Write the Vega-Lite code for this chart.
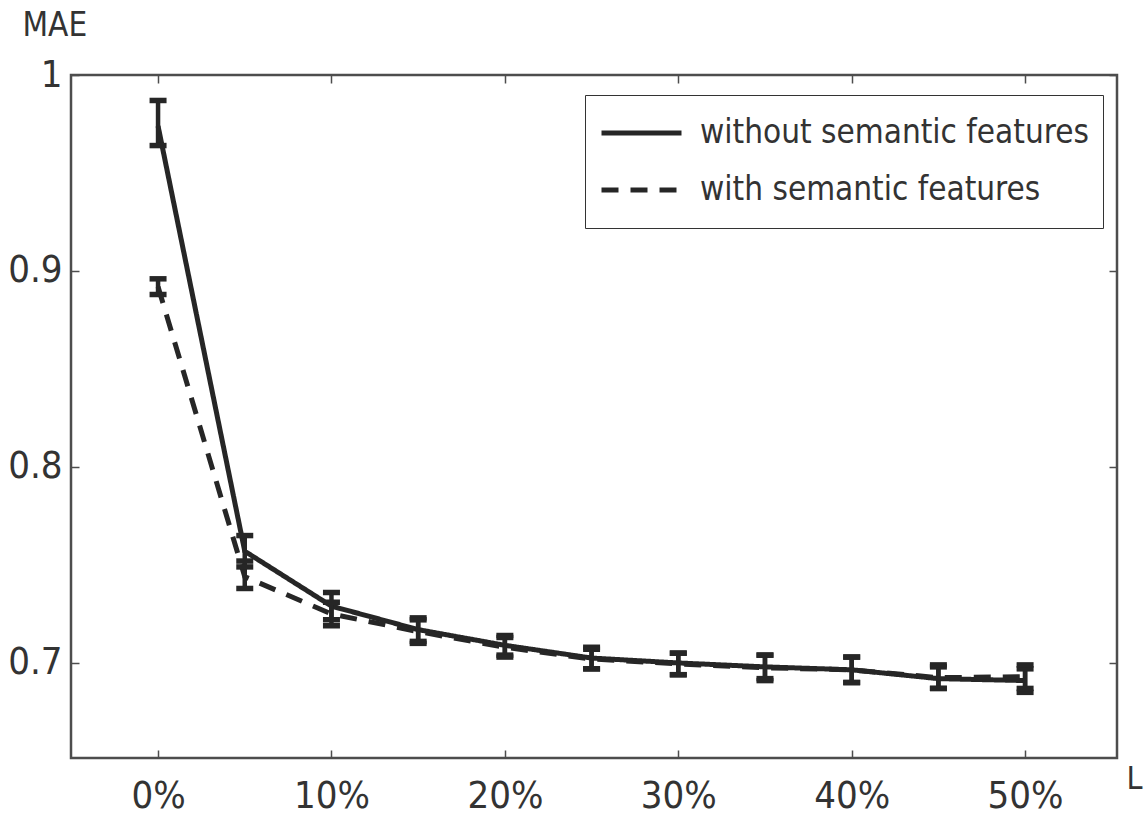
{
  "$schema": "https://vega.github.io/schema/vega-lite/v6.json",
  "width": 1046,
  "height": 683,
  "autosize": {"type": "none"},
  "padding": {"left": 71, "top": 75, "right": 30, "bottom": 59},
  "background": "white",
  "config": {
    "view": {"stroke": "#4d4d4d", "strokeWidth": 2.5},
    "font": "DejaVu Sans Condensed, Liberation Sans",
    "axis": {
      "grid": false,
      "domain": false,
      "tickColor": "#4d4d4d",
      "tickWidth": 1.5,
      "tickSize": -8,
      "labelFont": "DejaVu Sans Condensed, Liberation Sans",
      "labelFontSize": 38,
      "labelColor": "#333333",
      "titleFont": "DejaVu Sans Condensed, Liberation Sans",
      "titleFontWeight": "normal",
      "titleColor": "#333333"
    },
    "legend": {
      "labelFont": "DejaVu Sans Condensed, Liberation Sans",
      "labelFontSize": 33,
      "labelColor": "#333333",
      "labelLimit": 0
    }
  },
  "data": {
    "values": [
      {"x": 0, "series": "without semantic features", "mean": 0.974, "lo": 0.964, "hi": 0.987},
      {"x": 5, "series": "without semantic features", "mean": 0.757, "lo": 0.749, "hi": 0.765},
      {"x": 10, "series": "without semantic features", "mean": 0.729, "lo": 0.722, "hi": 0.736},
      {"x": 15, "series": "without semantic features", "mean": 0.717, "lo": 0.711, "hi": 0.723},
      {"x": 20, "series": "without semantic features", "mean": 0.709, "lo": 0.704, "hi": 0.714},
      {"x": 25, "series": "without semantic features", "mean": 0.7025, "lo": 0.697, "hi": 0.708},
      {"x": 30, "series": "without semantic features", "mean": 0.7, "lo": 0.694, "hi": 0.705},
      {"x": 35, "series": "without semantic features", "mean": 0.698, "lo": 0.692, "hi": 0.704},
      {"x": 40, "series": "without semantic features", "mean": 0.6965, "lo": 0.690, "hi": 0.703},
      {"x": 45, "series": "without semantic features", "mean": 0.692, "lo": 0.687, "hi": 0.698},
      {"x": 50, "series": "without semantic features", "mean": 0.691, "lo": 0.685, "hi": 0.697},
      {"x": 0, "series": "with semantic features", "mean": 0.892, "lo": 0.888, "hi": 0.896},
      {"x": 5, "series": "with semantic features", "mean": 0.744, "lo": 0.738, "hi": 0.752},
      {"x": 10, "series": "with semantic features", "mean": 0.725, "lo": 0.719, "hi": 0.731},
      {"x": 15, "series": "with semantic features", "mean": 0.716, "lo": 0.710, "hi": 0.722},
      {"x": 20, "series": "with semantic features", "mean": 0.708, "lo": 0.703, "hi": 0.713},
      {"x": 25, "series": "with semantic features", "mean": 0.702, "lo": 0.697, "hi": 0.707},
      {"x": 30, "series": "with semantic features", "mean": 0.6995, "lo": 0.694, "hi": 0.705},
      {"x": 35, "series": "with semantic features", "mean": 0.6975, "lo": 0.691, "hi": 0.704},
      {"x": 40, "series": "with semantic features", "mean": 0.6965, "lo": 0.690, "hi": 0.703},
      {"x": 45, "series": "with semantic features", "mean": 0.6925, "lo": 0.687, "hi": 0.699},
      {"x": 50, "series": "with semantic features", "mean": 0.693, "lo": 0.687, "hi": 0.699}
    ]
  },
  "layer": [
    {
      "mark": {"type": "line", "color": "#262626", "strokeWidth": 5, "strokeCap": "butt"},
      "encoding": {
        "x": {
          "field": "x", "type": "quantitative",
          "scale": {"domain": [-5.02, 55.3], "nice": false, "zero": false},
          "axis": {
            "orient": "bottom",
            "values": [0, 10, 20, 30, 40, 50],
            "labelExpr": "datum.value + '%'",
            "labelBaseline": "alphabetic",
            "labelPadding": 57,
            "title": "L",
            "titleFontSize": 32,
            "titleAnchor": "start",
            "titleAlign": "left",
            "titleBaseline": "alphabetic",
            "titleX": 1055,
            "titleY": 30
          }
        },
        "y": {
          "field": "mean", "type": "quantitative",
          "scale": {"domain": [0.6515, 1.0], "nice": false, "zero": false},
          "axis": {
            "orient": "left",
            "values": [0.7, 0.8, 0.9, 1.0],
            "format": ".1~f",
            "labelPadding": 17,
            "title": "MAE",
            "titleFontSize": 33,
            "titleAngle": 0,
            "titleAlign": "left",
            "titleBaseline": "alphabetic",
            "titleX": -49,
            "titleY": -40
          }
        },
        "strokeDash": {
          "field": "series", "type": "nominal",
          "scale": {
            "domain": ["without semantic features", "with semantic features"],
            "range": [[1, 0], [17, 12]]
          },
          "legend": {
            "title": null,
            "orient": "none",
            "legendX": 514,
            "legendY": 20,
            "strokeColor": "#333333",
            "fillColor": "white",
            "padding": 14,
            "rowPadding": 9,
            "clipHeight": 48,
            "symbolType": "stroke",
            "symbolSize": 6400,
            "symbolStrokeWidth": 5,
            "symbolStrokeColor": "#262626",
            "labelOffset": 16
          }
        }
      }
    },
    {
      "mark": {"type": "rule", "color": "#262626", "strokeWidth": 4.5},
      "encoding": {
        "x": {"field": "x", "type": "quantitative",
          "axis": {"orient": "top", "values": [0, 10, 20, 30, 40, 50], "labels": false, "title": null}},
        "y": {"field": "lo", "type": "quantitative",
          "axis": {"orient": "right", "values": [0.7, 0.8, 0.9, 1.0], "labels": false, "title": null}},
        "y2": {"field": "hi"}
      }
    },
    {
      "mark": {"type": "tick", "orient": "horizontal", "color": "#262626", "opacity": 1, "size": 17, "thickness": 5.5},
      "encoding": {
        "x": {"field": "x", "type": "quantitative", "axis": null},
        "y": {"field": "lo", "type": "quantitative", "axis": null}
      }
    },
    {
      "mark": {"type": "tick", "orient": "horizontal", "color": "#262626", "opacity": 1, "size": 17, "thickness": 5.5},
      "encoding": {
        "x": {"field": "x", "type": "quantitative", "axis": null},
        "y": {"field": "hi", "type": "quantitative", "axis": null}
      }
    }
  ],
  "resolve": {"axis": {"x": "independent", "y": "independent"}}
}
